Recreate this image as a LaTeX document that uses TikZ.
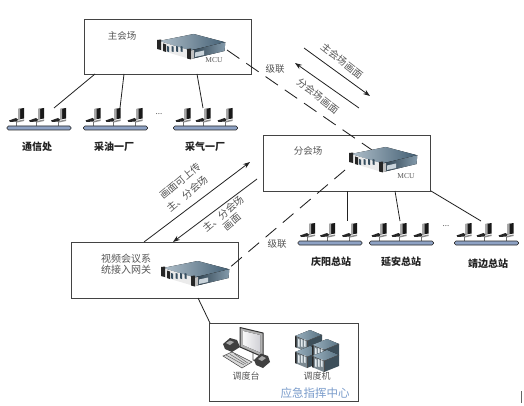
\documentclass[tikz,border=0pt]{standalone}
\usepackage{fontspec}
\setmainfont{Noto Sans CJK SC}
\newfontfamily\latinserif{Liberation Serif}
\usetikzlibrary{arrows.meta}
\definecolor{txt}{HTML}{555555}
\definecolor{dark}{HTML}{222222}
\definecolor{bluet}{HTML}{7A9CCB}
\definecolor{srv}{HTML}{4F7088}
\definecolor{rk}{HTML}{6F8FA3}
\definecolor{bar}{HTML}{8EA2C4}
\tikzset{
  x=1pt,y=-1pt,
  box/.style={draw=dark!85,line width=0.9pt,fill=white,inner sep=0pt,anchor=north west},
  link/.style={draw=dark,line width=0.8pt},
  cascade/.style={draw=dark,line width=0.85pt,dash pattern=on 15pt off 8.4pt},
  flow/.style={draw=dark,line width=0.8pt,-{Stealth[length=7pt,width=5pt]}},
  lbl/.style={text=txt,font=\fontsize{9.5}{11}\selectfont,inner sep=0pt,align=center},
  rlbl/.style={text=txt,font=\fontsize{10}{11}\selectfont,inner sep=0pt},
  site/.style={text=dark,font=\fontsize{10}{12}\selectfont\bfseries,inner sep=0pt},
  mcu/.style={text=txt,font=\latinserif\fontsize{7.5}{9}\selectfont,inner sep=0pt},
  server/.pic={
    % top face
    \fill[left color=srv!45!white,right color=srv!85!black]
      (2,7) -- (36.7,0) -- (68.3,8.3) -- (33,16.5) -- cycle;
    % right face
    \fill[left color=srv!55!black,right color=srv!70!white]
      (33,16.5) -- (68.3,8.3) -- (67.5,17) -- (34,25) -- cycle;
    \fill[srv!30!white] (38,18.5) -- (47,16.5) -- (47,21) -- (38,23) -- cycle;
    % front face
    \fill[black!8] (1,7) -- (33,16.5) -- (33,25) -- (1,15.5) -- cycle;
    \foreach \q in {10,14.5,19,23.5}
      \fill[srv!70!black] (\q,12) -- (\q+2,12.6) -- (\q+2,18) -- (\q,17.4) -- cycle;
    % rack ears
    \fill[black!85] (0,6) -- (4,5.5) -- (4,16) -- (0,15) -- cycle;
    \fill[black!85] (6,9.5) -- (9,10.5) -- (9,18) -- (6,17) -- cycle;
    \fill[black!85] (30,15) -- (34,14.5) -- (34,25.5) -- (30,24.5) -- cycle;
    \fill[black!25] (34,16.5) -- (37,16) -- (37,24.5) -- (34,25) -- cycle;
  },
  pcset/.pic={
    % tower
    \fill[black!90] (9,1) -- (15,0) -- (15,10.5) -- (9,11.5) -- cycle;
    \fill[black!35] (9,1) -- (11,0.7) -- (11,11.2) -- (9,11.5) -- cycle;
    % keyboard
    \fill[black!85] (0,12.5) -- (7,10) -- (9,11.5) -- (8,13.5) -- (1,14) -- cycle;
    \fill[black!45] (8,13) -- (15,11.5) -- (15,13) -- (8,14.5) -- cycle;
    % drop
    \draw[black!55,line width=0.6pt] (7.7,14) -- (7.7,18);
  },
  lan/.pic={
    \foreach \q in {2,22,44} \pic at (\q,-20) {pcset};
    \draw[draw=black!85,fill=bar,line width=0.6pt,rounded corners=1.5pt] (0,-2) rectangle (64,2);
  },
  rack/.pic={
    \fill[left color=rk!70!white,right color=rk!80!black] (0,6) -- (15,0) -- (27,5) -- (12,11) -- cycle;
    \fill[rk!55!black] (12,11) -- (27,5) -- (27,16) -- (12,22) -- cycle;
    \fill[rk!60!black!70] (0,6) -- (12,11) -- (12,22) -- (0,17) -- cycle;
    \foreach \q in {3,6,9} \fill[white!80!rk] (\q,9) -- (\q+1.5,9.6) -- (\q+1.5,17) -- (\q,16.4) -- cycle;
    \fill[black!85] (0,6) -- (1.5,6.6) -- (1.5,17.6) -- (0,17) -- cycle;
    \draw[black!70,line width=0.4pt] (0,6) -- (12,11) -- (27,5);
    \draw[black!70,line width=0.4pt] (12,11) -- (12,22);
  },
}
\begin{document}
\begin{tikzpicture}
\useasboundingbox (0,0) rectangle (524,406);
\fill[white] (0,0) rectangle (524,406);

% venue boxes
\node[box,minimum width=167.5pt,minimum height=55pt] (main) at (83.5,19) {};
\node[box,minimum width=167pt,minimum height=56pt] (sub) at (263,135) {};
\node[box,minimum width=167pt,minimum height=56pt] (gate) at (71,242) {};
\node[box,minimum width=149pt,minimum height=78pt] (emerg) at (209,323) {};

% connector ends
\coordinate (mainL1) at (95,74);
\coordinate (mainL2) at (124,74);
\coordinate (mainL3) at (197,74);
\coordinate (lanA) at (54,108);
\coordinate (lanB) at (120,108);
\coordinate (lanC) at (203,108);
\coordinate (subL1) at (347,191);
\coordinate (subL2) at (395,191);
\coordinate (subL3) at (431,191);
\coordinate (lanD) at (347,221);
\coordinate (lanE) at (400,221);
\coordinate (lanF) at (481,221);
\coordinate (mcuMainOut) at (227,50);
\coordinate (mcuSubIn) at (372,150);
\coordinate (mcuSubOut) at (345,170);
\coordinate (gateIn) at (228,269);
\coordinate (gateDown) at (198,298);
\coordinate (emergTop) at (210,323);
\coordinate (upA) at (304,48);
\coordinate (upB) at (370,96);
\coordinate (downA) at (359,108);
\coordinate (downB) at (295,63);
\coordinate (gateUpA) at (144,242);
\coordinate (gateUpB) at (250,162);
\coordinate (gateDnA) at (257,179);
\coordinate (gateDnB) at (173,242);

% connectors
\draw[link] (mainL1) -- (lanA);
\draw[link] (mainL2) -- (lanB);
\draw[link] (mainL3) -- (lanC);
\draw[link] (subL1) -- (lanD);
\draw[link] (subL2) -- (lanE);
\draw[link] (subL3) -- (lanF);
\draw[cascade] (mcuMainOut) -- (mcuSubIn);
\draw[cascade,dash pattern=on 14pt off 8.5pt] (mcuSubOut) -- (gateIn);
\draw[link] (gateDown) -- (emergTop);
\draw[flow] (upA) -- (upB);
\draw[flow] (downA) -- (downB);
\draw[flow] (gateUpA) -- (gateUpB);
\draw[flow] (gateDnA) -- (gateDnB);

% servers
\pic at (157,34) {server};
\pic at (349,147) {server};
\pic at (161,261) {server};

% LANs
\pic at (7,128) {lan};
\pic at (83.5,128) {lan};
\pic at (173.5,128) {lan};
\pic at (298,243) {lan};
\pic at (369.5,243) {lan};
\pic at (454.5,243) {lan};

% console
\begin{scope}[shift={(223,327)}]
  \draw[black!80,fill=black!30,line width=1pt,line join=round] (17,0.5) -- (40,6) -- (40,30) -- (17,20) -- cycle;
  \fill[left color=black!3,right color=blue!12!black!18] (20,4) -- (37,8) -- (37,25.5) -- (20,18) -- cycle;
  \draw[black!70,line width=0.8pt] (30,26) -- (30,33) -- (36,35);
  \fill[black!75] (0,17) -- (7,11) -- (14,13) -- (17,20) -- (9,25) -- (2,22) -- cycle;
  \fill[black!35] (3,16) -- (7,13.5) -- (11,15) -- (7,18) -- cycle;
  \fill[black!75] (31,33) -- (38,26.5) -- (45,29) -- (47,35) -- (40,41) -- (33,38) -- cycle;
  \fill[black!35] (35,32) -- (39,29) -- (43,31) -- (39,34) -- cycle;
  \fill[black!15,draw=black!75,line width=0.5pt] (0,29) -- (9,25) -- (29,35) -- (19,41) -- cycle;
  \foreach \q in {0,1,2} \draw[black!60,line width=0.5pt] (3+4*\q,28-0.7*\q) -- (21+2*\q,38-0.9*\q);
\end{scope}

% dispatch machines
\pic at (295,330) {rack};
\pic at (295,346) {rack};
\pic at (312,339) {rack};
\pic at (312,350) {rack};

% stray mark at the lower right
\draw[black!60,line width=0.8pt] (521,391) -- (521,403);

% labels
\node[lbl] (tMain) at (122,36) {主会场};
\node[lbl] (tSub) at (308,151) {分会场};
\node[lbl,font=\fontsize{10}{11.2}\selectfont] (tGate) at (126,264) {视频会议系\\统接入网关};
\node[mcu] (mcuA) at (214,60) {MCU};
\node[mcu] (mcuB) at (406,176) {MCU};
\node[lbl] (casA) at (275,69) {级联};
\node[lbl] (casB) at (277,244) {级联};
\node[rlbl,rotate=-38] (fMain) at (342,61) {主会场画面};
\node[rlbl,rotate=-38] (fSub) at (318,96) {分会场画面};
\node[rlbl,rotate=40] (fUp1) at (180,181) {画面可上传};
\node[rlbl,rotate=40] (fUp2) at (187,194) {主、分会场};
\node[rlbl,rotate=40] (fDn1) at (223,214) {主、分会场};
\node[rlbl,rotate=40] (fDn2) at (232,222) {画面};
\node[site] (sA) at (37,147) {通信处};
\node[site] (sB) at (114,147) {采油一厂};
\node[site] (sC) at (205,147) {采气一厂};
\node[site] (sD) at (331,262) {庆阳总站};
\node[site] (sE) at (401,262) {延安总站};
\node[site] (sF) at (488,264) {靖边总站};
\node[text=txt,inner sep=0pt,font=\fontsize{8}{9}\selectfont] (d1) at (159,114) {...};
\node[text=txt,inner sep=0pt,font=\fontsize{8}{9}\selectfont] (d2) at (446,226) {...};
\node[lbl,font=\fontsize{9}{11}\selectfont] (tDesk) at (246,376) {调度台};
\node[lbl,font=\fontsize{9}{11}\selectfont] (tHost) at (317,376) {调度机};
\node[text=bluet,inner sep=0pt,font=\fontsize{11.5}{13}\selectfont] (tCenter) at (315,393) {应急指挥中心};
\end{tikzpicture}
\end{document}
